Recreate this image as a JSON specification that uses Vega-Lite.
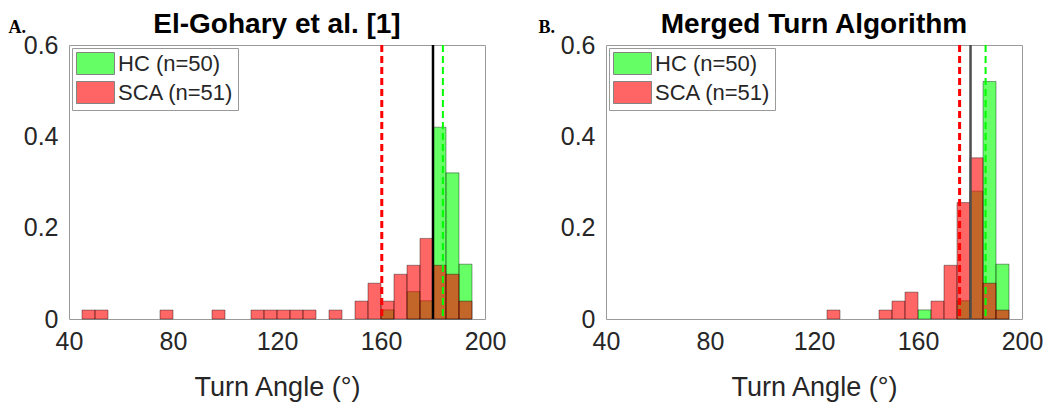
{
  "$schema": "https://vega.github.io/schema/vega-lite/v6.json",
  "background": "white",
  "padding": {"left": 7, "top": 10, "right": 10, "bottom": 5},
  "bounds": "flush",
  "spacing": 121,
  "datasets": {
    "bars": [
      {"panel": "A", "group": "HC (n=50)", "bin_start": 160, "bin_end": 165, "probability": 0.02},
      {"panel": "A", "group": "HC (n=50)", "bin_start": 170, "bin_end": 175, "probability": 0.06},
      {"panel": "A", "group": "HC (n=50)", "bin_start": 175, "bin_end": 180, "probability": 0.04},
      {"panel": "A", "group": "HC (n=50)", "bin_start": 180, "bin_end": 185, "probability": 0.42},
      {"panel": "A", "group": "HC (n=50)", "bin_start": 185, "bin_end": 190, "probability": 0.32},
      {"panel": "A", "group": "HC (n=50)", "bin_start": 190, "bin_end": 195, "probability": 0.12},
      {"panel": "A", "group": "SCA (n=51)", "bin_start": 45, "bin_end": 50, "probability": 0.0196},
      {"panel": "A", "group": "SCA (n=51)", "bin_start": 50, "bin_end": 55, "probability": 0.0196},
      {"panel": "A", "group": "SCA (n=51)", "bin_start": 75, "bin_end": 80, "probability": 0.0196},
      {"panel": "A", "group": "SCA (n=51)", "bin_start": 95, "bin_end": 100, "probability": 0.0196},
      {"panel": "A", "group": "SCA (n=51)", "bin_start": 110, "bin_end": 115, "probability": 0.0196},
      {"panel": "A", "group": "SCA (n=51)", "bin_start": 115, "bin_end": 120, "probability": 0.0196},
      {"panel": "A", "group": "SCA (n=51)", "bin_start": 120, "bin_end": 125, "probability": 0.0196},
      {"panel": "A", "group": "SCA (n=51)", "bin_start": 125, "bin_end": 130, "probability": 0.0196},
      {"panel": "A", "group": "SCA (n=51)", "bin_start": 130, "bin_end": 135, "probability": 0.0196},
      {"panel": "A", "group": "SCA (n=51)", "bin_start": 140, "bin_end": 145, "probability": 0.0196},
      {"panel": "A", "group": "SCA (n=51)", "bin_start": 150, "bin_end": 155, "probability": 0.0392},
      {"panel": "A", "group": "SCA (n=51)", "bin_start": 155, "bin_end": 160, "probability": 0.0784},
      {"panel": "A", "group": "SCA (n=51)", "bin_start": 160, "bin_end": 165, "probability": 0.0392},
      {"panel": "A", "group": "SCA (n=51)", "bin_start": 165, "bin_end": 170, "probability": 0.098},
      {"panel": "A", "group": "SCA (n=51)", "bin_start": 170, "bin_end": 175, "probability": 0.1176},
      {"panel": "A", "group": "SCA (n=51)", "bin_start": 175, "bin_end": 180, "probability": 0.1765},
      {"panel": "A", "group": "SCA (n=51)", "bin_start": 180, "bin_end": 185, "probability": 0.1176},
      {"panel": "A", "group": "SCA (n=51)", "bin_start": 185, "bin_end": 190, "probability": 0.098},
      {"panel": "A", "group": "SCA (n=51)", "bin_start": 190, "bin_end": 195, "probability": 0.0392},
      {"panel": "B", "group": "HC (n=50)", "bin_start": 160, "bin_end": 165, "probability": 0.02},
      {"panel": "B", "group": "HC (n=50)", "bin_start": 175, "bin_end": 180, "probability": 0.04},
      {"panel": "B", "group": "HC (n=50)", "bin_start": 180, "bin_end": 185, "probability": 0.28},
      {"panel": "B", "group": "HC (n=50)", "bin_start": 185, "bin_end": 190, "probability": 0.52},
      {"panel": "B", "group": "HC (n=50)", "bin_start": 190, "bin_end": 195, "probability": 0.12},
      {"panel": "B", "group": "SCA (n=51)", "bin_start": 125, "bin_end": 130, "probability": 0.0196},
      {"panel": "B", "group": "SCA (n=51)", "bin_start": 145, "bin_end": 150, "probability": 0.0196},
      {"panel": "B", "group": "SCA (n=51)", "bin_start": 150, "bin_end": 155, "probability": 0.0392},
      {"panel": "B", "group": "SCA (n=51)", "bin_start": 155, "bin_end": 160, "probability": 0.0588},
      {"panel": "B", "group": "SCA (n=51)", "bin_start": 165, "bin_end": 170, "probability": 0.0392},
      {"panel": "B", "group": "SCA (n=51)", "bin_start": 170, "bin_end": 175, "probability": 0.1176},
      {"panel": "B", "group": "SCA (n=51)", "bin_start": 175, "bin_end": 180, "probability": 0.2549},
      {"panel": "B", "group": "SCA (n=51)", "bin_start": 180, "bin_end": 185, "probability": 0.3529},
      {"panel": "B", "group": "SCA (n=51)", "bin_start": 185, "bin_end": 190, "probability": 0.0784},
      {"panel": "B", "group": "SCA (n=51)", "bin_start": 190, "bin_end": 195, "probability": 0.0196}
    ],
    "lines": [
      {"panel": "A", "stat": "SCA mean", "angle": 160.3},
      {"panel": "A", "stat": "reference", "angle": 180},
      {"panel": "A", "stat": "HC mean", "angle": 183.8},
      {"panel": "B", "stat": "SCA mean", "angle": 176},
      {"panel": "B", "stat": "reference", "angle": 180.2},
      {"panel": "B", "stat": "HC mean", "angle": 186}
    ]
  },
  "config": {
    "font": "Liberation Sans",
    "view": {"stroke": "#9a9a9a", "strokeWidth": 1},
    "axis": {
      "grid": false, "domain": false, "ticks": false, "labelFlush": false,
      "labelFont": "Liberation Sans", "labelFontSize": 25, "labelColor": "#262626",
      "titleFont": "Liberation Sans", "titleFontSize": 27, "titleFontWeight": "normal", "titleColor": "#262626"
    },
    "title": {"font": "Liberation Sans", "fontSize": 28, "fontWeight": "bold", "color": "#000000", "offset": 13, "dy": 34, "baseline": "alphabetic", "frame": "group"},
    "legend": {
      "orient": "top-left", "offset": 3, "padding": 4,
      "fillColor": "white", "strokeColor": "#9a9a9a", "strokeWidth": 1,
      "symbolType": "M-1.727,-1H1.727V1H-1.727Z", "symbolSize": 484,
      "symbolStrokeColor": "#333333", "symbolStrokeWidth": 1, "symbolOpacity": 0.6,
      "symbolOffset": 8, "labelOffset": 11,
      "labelFont": "Liberation Sans", "labelFontSize": 22, "labelColor": "#262626",
      "rowPadding": 2, "labelLimit": 300
    }
  },
  "resolve": {"legend": {"color": "independent"}},
  "hconcat": [
    {
      "width": 416, "height": 274,
      "title": {"text": "El-Gohary et al. [1]"},
      "layer": [
        {
          "data": {"name": "bars"},
          "transform": [{"filter": "datum.panel == 'A'"}],
          "mark": {"type": "bar", "fillOpacity": 0.6, "stroke": "#000000", "strokeWidth": 0.7, "strokeOpacity": 0.55},
          "encoding": {
            "x": {"field": "bin_start", "type": "quantitative", "scale": {"domain": [40, 200], "nice": false, "zero": false},
                  "axis": {"values": [40, 80, 120, 160, 200], "title": "Turn Angle (°)", "labelPadding": 10, "titlePadding": 20}},
            "x2": {"field": "bin_end"},
            "y": {"field": "probability", "type": "quantitative", "stack": null, "scale": {"domain": [0, 0.6], "nice": false},
                  "axis": {"values": [0, 0.2, 0.4, 0.6], "format": "~g", "labelPadding": 11,
                           "title": "A.", "titleAngle": 0, "titleAlign": "left", "titleBaseline": "alphabetic",
                           "titleX": -61, "titleY": -13, "titleFont": "Liberation Serif", "titleFontWeight": "bold", "titleFontSize": 18, "titleColor": "#000000"}},
            "y2": {"datum": 0},
            "color": {"field": "group", "type": "nominal",
                      "scale": {"domain": ["HC (n=50)", "SCA (n=51)"], "range": ["#00ff00", "#ff0000"]},
                      "legend": {"title": null}}
          }
        },
        {
          "data": {"name": "lines"},
          "transform": [{"filter": "datum.panel == 'A' && datum.stat == 'SCA mean'"}],
          "mark": {"type": "rule", "color": "#ff0000", "strokeWidth": 3, "strokeDash": [7, 4]},
          "encoding": {"x": {"field": "angle", "type": "quantitative", "title": "Turn Angle (°)"}}
        },
        {
          "data": {"name": "lines"},
          "transform": [{"filter": "datum.panel == 'A' && datum.stat == 'reference'"}],
          "mark": {"type": "rule", "color": "#000000", "strokeWidth": 2.5},
          "encoding": {"x": {"field": "angle", "type": "quantitative", "title": "Turn Angle (°)"}}
        },
        {
          "data": {"name": "lines"},
          "transform": [{"filter": "datum.panel == 'A' && datum.stat == 'HC mean'"}],
          "mark": {"type": "rule", "color": "#00ff00", "strokeWidth": 2, "strokeDash": [7, 4]},
          "encoding": {"x": {"field": "angle", "type": "quantitative", "title": "Turn Angle (°)"}}
        }
      ]
    },
    {
      "width": 416, "height": 274,
      "title": {"text": "Merged Turn Algorithm"},
      "layer": [
        {
          "data": {"name": "bars"},
          "transform": [{"filter": "datum.panel == 'B'"}],
          "mark": {"type": "bar", "fillOpacity": 0.6, "stroke": "#000000", "strokeWidth": 0.7, "strokeOpacity": 0.55},
          "encoding": {
            "x": {"field": "bin_start", "type": "quantitative", "scale": {"domain": [40, 200], "nice": false, "zero": false},
                  "axis": {"values": [40, 80, 120, 160, 200], "title": "Turn Angle (°)", "labelPadding": 10, "titlePadding": 20}},
            "x2": {"field": "bin_end"},
            "y": {"field": "probability", "type": "quantitative", "stack": null, "scale": {"domain": [0, 0.6], "nice": false},
                  "axis": {"values": [0, 0.2, 0.4, 0.6], "format": "~g", "labelPadding": 11,
                           "title": "B.", "titleAngle": 0, "titleAlign": "left", "titleBaseline": "alphabetic",
                           "titleX": -68, "titleY": -13, "titleFont": "Liberation Serif", "titleFontWeight": "bold", "titleFontSize": 18, "titleColor": "#000000"}},
            "y2": {"datum": 0},
            "color": {"field": "group", "type": "nominal",
                      "scale": {"domain": ["HC (n=50)", "SCA (n=51)"], "range": ["#00ff00", "#ff0000"]},
                      "legend": {"title": null}}
          }
        },
        {
          "data": {"name": "lines"},
          "transform": [{"filter": "datum.panel == 'B' && datum.stat == 'SCA mean'"}],
          "mark": {"type": "rule", "color": "#ff0000", "strokeWidth": 3, "strokeDash": [7, 4]},
          "encoding": {"x": {"field": "angle", "type": "quantitative", "title": "Turn Angle (°)"}}
        },
        {
          "data": {"name": "lines"},
          "transform": [{"filter": "datum.panel == 'B' && datum.stat == 'reference'"}],
          "mark": {"type": "rule", "color": "#4d4d4d", "strokeWidth": 2.5},
          "encoding": {"x": {"field": "angle", "type": "quantitative", "title": "Turn Angle (°)"}}
        },
        {
          "data": {"name": "lines"},
          "transform": [{"filter": "datum.panel == 'B' && datum.stat == 'HC mean'"}],
          "mark": {"type": "rule", "color": "#00ff00", "strokeWidth": 2, "strokeDash": [7, 4]},
          "encoding": {"x": {"field": "angle", "type": "quantitative", "title": "Turn Angle (°)"}}
        }
      ]
    }
  ]
}
